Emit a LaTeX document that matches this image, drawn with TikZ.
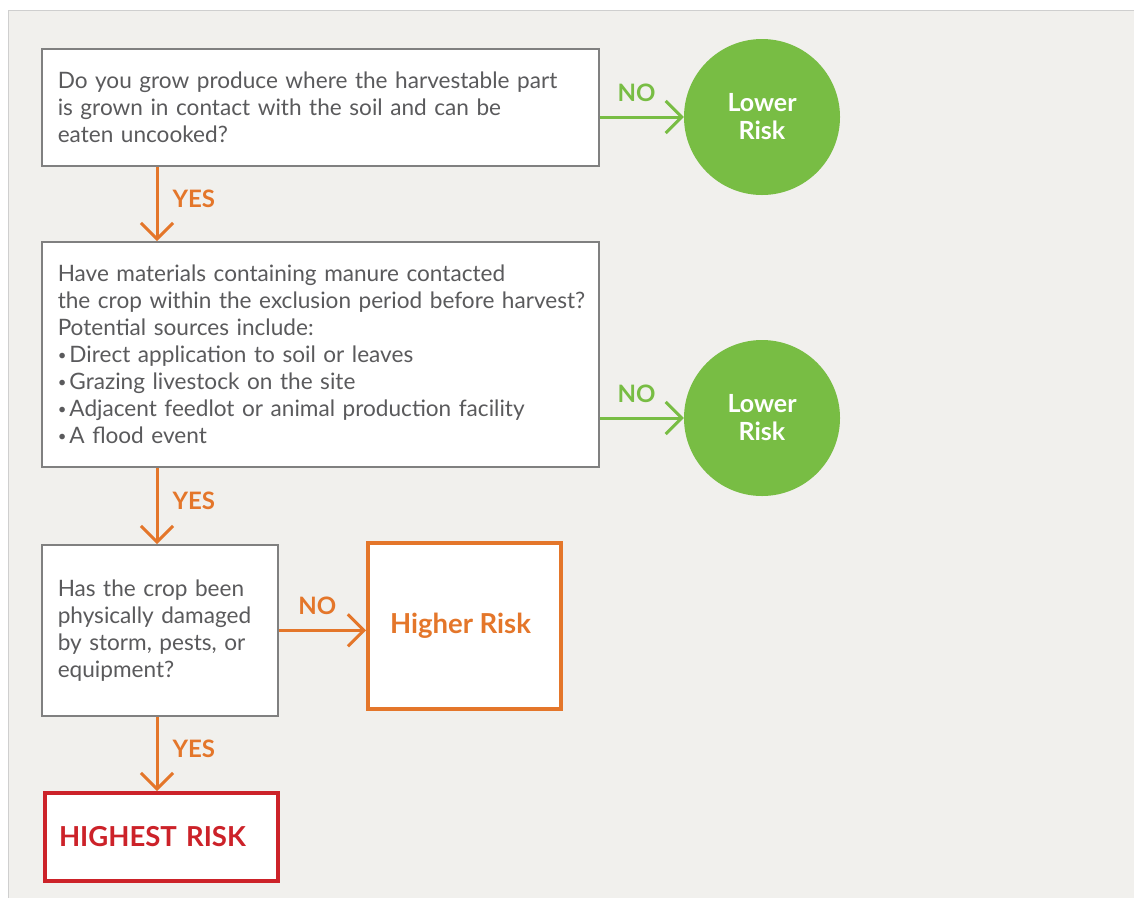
\documentclass[tikz,border=0pt]{standalone}
\usepackage{fontspec}
\setmainfont{Lato}
\usetikzlibrary{arrows.meta,positioning}

\definecolor{panelgrey}{HTML}{F1F0ED}
\definecolor{edgegrey}{HTML}{CFCFCF}
\definecolor{boxgrey}{HTML}{808080}
\definecolor{txtgrey}{HTML}{5A5A5C}
\definecolor{riskgreen}{HTML}{78BD44}
\definecolor{riskorange}{HTML}{E4762A}
\definecolor{riskred}{HTML}{CC2229}

\newcommand{\dotitem}{{\fontsize{15}{15}\selectfont\raisebox{1.5pt}{\textbullet}}\hspace{3pt}}

\tikzset{
  question/.style={draw=boxgrey, line width=1.5pt, fill=white, anchor=north west,
    align=left, inner xsep=16pt, inner ysep=0pt, text=txtgrey,
    font=\fontsize{22.6}{27}\selectfont},
  lowrisk/.style={circle, fill=riskgreen, minimum size=156pt, inner sep=0pt,
    align=center, text=white, font=\bfseries\fontsize{25}{28}\selectfont},
  yesarrow/.style={draw=riskorange, line width=3pt,
    -{Straight Barb[length=16pt,width=32pt]}},
  noarrow/.style={draw=riskgreen, line width=3pt,
    -{Straight Barb[length=16pt,width=32pt]}},
  yeslabel/.style={right, inner sep=0pt, xshift=14pt, yshift=5pt, text=riskorange,
    font=\bfseries\fontsize{24}{24}\selectfont},
  nolabel/.style={above, inner sep=0pt, xshift=-5pt, yshift=14pt, text=riskgreen,
    font=\bfseries\fontsize{24}{24}\selectfont}
}

\begin{document}
\begin{tikzpicture}[x=1pt,y=-1pt]
    % Panel
    \useasboundingbox (0,0) rectangle (1134,898);
    \fill[panelgrey] (8,10) rectangle (1134,898);
    \draw[edgegrey, line width=1pt] (8,898) -- (8,10) -- (1134,10);

    % Questions
    \node[question, text width=525pt, minimum height=117pt] (q1) at (41,48)
        {Do you grow produce where the harvestable part\\
         is grown in contact with the soil and can be\\
         eaten uncooked?};
    \node[question, text width=525pt, minimum height=225pt] (q2) at (41,241)
        {Have materials containing manure contacted\\
         \mbox{the crop within the exclusion period before harvest?}\\
         Potential sources include:\\
         \dotitem Direct application to soil or leaves\\
         \dotitem Grazing livestock on the site\\
         \dotitem Adjacent feedlot or animal production facility\\
         \dotitem A flood event};
    \node[question, text width=204pt, minimum height=171pt] (q3) at (41,544)
        {Has the crop been\\
         physically damaged\\
         by storm, pests, or\\
         equipment?};

    % Outcomes
    \node[lowrisk] (low1) at (762,117) {Lower\\Risk};
    \node[lowrisk] (low2) at (762,418) {Lower\\Risk};
    \node[draw=riskorange, line width=4pt, fill=white, minimum width=193pt,
          minimum height=166pt, text=riskorange,
          font=\bfseries\fontsize{27.5}{27.5}\selectfont] (high) at (464.5,626)
        {\hspace*{-8pt}Higher Risk};
    \node[draw=riskred, line width=4pt, fill=white, anchor=north west,
          minimum height=88pt, text width=205pt, inner xsep=14pt, align=left,
          text=riskred, font=\bfseries\fontsize{27.5}{27.5}\selectfont] (worst) at (43,791)
        {HIGHEST RISK};

    % YES arrows down the left side
    \coordinate (spine) at (157,0);
    \draw[yesarrow] (q1.south -| spine) -- node[yeslabel] {YES} (q2.north -| spine);
    \draw[yesarrow] (q2.south -| spine) -- node[yeslabel] {YES} (q3.north -| spine);
    \draw[yesarrow] (q3.south -| spine) -- node[yeslabel] {YES} (worst.north -| spine);

    % NO arrows to the right
    \draw[noarrow] (low1.west -| q1.east) -- node[nolabel] {NO} (low1.west);
    \draw[noarrow] (low2.west -| q2.east) -- node[nolabel] {NO} (low2.west);
    \draw[yesarrow] (q3.east) -- node[nolabel, text=riskorange] {NO} (high.west |- q3.east);
\end{tikzpicture}
\end{document}
